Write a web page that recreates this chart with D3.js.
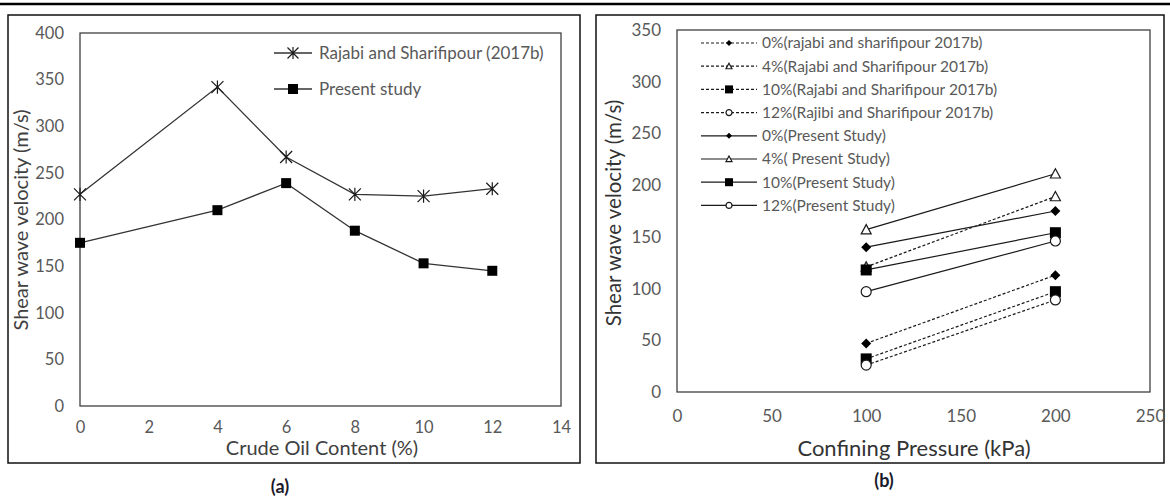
<!DOCTYPE html>
<html>
<head>
<meta charset="utf-8">
<script src="https://cdn.jsdelivr.net/npm/d3@7"></script>
<style>
  body { margin: 0; background: #fff; }
  svg { display: block; font-family: Lato, "Open Sans", sans-serif; }
</style>
</head>
<body>
<svg id="chart" width="1170" height="496"></svg>
<script>
// Panel (a) data
const oilContent = [0, 4, 6, 8, 10, 12];
const rajabiVs = [227, 342, 267, 227, 225, 233];
const presentVs = [175, 210, 239, 188, 153, 145];

// Panel (b) data
const pressures = [100, 200];
const seriesNames = [
  '0%(rajabi and sharifipour 2017b)',
  '4%(Rajabi and Sharifipour 2017b)',
  '10%(Rajabi and Sharifipour 2017b)',
  '12%(Rajibi and Sharifipour 2017b)',
  '0%(Present Study)',
  '4%( Present Study)',
  '10%(Present Study)',
  '12%(Present Study)'
];
const rajabi0 = [47, 113];
const rajabi4 = [121, 189];
const rajabi10 = [32, 97];
const rajabi12 = [26, 89];
const present0 = [140, 175];
const present4 = [157, 211];
const present10 = [118, 154];
const present12 = [97, 146];

const seriesB = [
  {name: seriesNames[0], values: rajabi0, marker: 'diamond', dashed: true},
  {name: seriesNames[1], values: rajabi4, marker: 'triangle', dashed: true},
  {name: seriesNames[2], values: rajabi10, marker: 'square', dashed: true},
  {name: seriesNames[3], values: rajabi12, marker: 'circle', dashed: true},
  {name: seriesNames[4], values: present0, marker: 'diamond', dashed: false},
  {name: seriesNames[5], values: present4, marker: 'triangle', dashed: false},
  {name: seriesNames[6], values: present10, marker: 'square', dashed: false},
  {name: seriesNames[7], values: present12, marker: 'circle', dashed: false}
];

const svg = d3.select('#chart');
const lineColor = '#1a1a1a';
const tickColor = '#595959';

// draw a marker centered at 0,0
function drawMarker(g, type, size) {
  if (type === 'square') {
    g.append('rect').attr('x', -size / 2).attr('y', -size / 2)
      .attr('width', size).attr('height', size).attr('fill', '#000');
  } else if (type === 'diamond') {
    const s = size / 2;
    g.append('path').attr('d', `M0,${-s}L${s},0L0,${s}L${-s},0Z`).attr('fill', '#000');
  } else if (type === 'triangle') {
    const s = size / 2;
    g.append('path').attr('d', `M0,${-s}L${s},${s * 0.85}L${-s},${s * 0.85}Z`)
      .attr('fill', '#fff').attr('stroke', lineColor).attr('stroke-width', 1.2);
  } else if (type === 'circle') {
    g.append('circle').attr('r', size / 2)
      .attr('fill', '#fff').attr('stroke', lineColor).attr('stroke-width', 1.2);
  } else if (type === 'star') {
    const s = size / 2;
    g.append('path')
      .attr('d', `M${-s},${-s}L${s},${s}M${-s},${s}L${s},${-s}M0,${-s * 1.1}L0,${s * 1.1}`)
      .attr('stroke', lineColor).attr('stroke-width', 1.2).attr('fill', 'none');
  }
}

// top rule
svg.append('line').attr('x1', 0).attr('x2', 1170).attr('y1', 4).attr('y2', 4)
  .attr('stroke', '#000').attr('stroke-width', 2.5);

// ---------- Panel (a) ----------
svg.append('rect').attr('x', 8).attr('y', 15).attr('width', 572).attr('height', 448)
  .attr('fill', 'none').attr('stroke', '#111').attr('stroke-width', 1.5);

const ax = d3.scaleLinear().domain([0, 14]).range([80, 561]);
const ay = d3.scaleLinear().domain([0, 400]).range([406, 33]);

const ga = svg.append('g');

ga.append('g').attr('transform', 'translate(0,406)')
  .call(d3.axisBottom(ax).tickValues(d3.range(0, 15, 2)).tickSize(0).tickPadding(15))
  .call(g => g.select('.domain').remove())
  .selectAll('text').attr('fill', tickColor).style('font-size', '16.5px').style('font-family', 'Lato');

ga.append('g').attr('transform', 'translate(80,0)')
  .call(d3.axisLeft(ay).tickValues(d3.range(0, 401, 50)).tickSize(0).tickPadding(16))
  .call(g => g.select('.domain').remove())
  .selectAll('text').attr('fill', tickColor).style('font-size', '16.5px').style('font-family', 'Lato');

ga.append('rect').attr('x', 80).attr('y', 33).attr('width', 481).attr('height', 373)
  .attr('fill', 'none').attr('stroke', '#404040').attr('stroke-width', 1.3);

const lineA = d3.line().x((d, i) => ax(oilContent[i])).y(d => ay(d));
ga.append('path').datum(rajabiVs).attr('d', lineA)
  .attr('fill', 'none').attr('stroke', '#333').attr('stroke-width', 1.3);
ga.append('path').datum(presentVs).attr('d', lineA)
  .attr('fill', 'none').attr('stroke', '#333').attr('stroke-width', 1.3);

rajabiVs.forEach((v, i) => {
  drawMarker(ga.append('g').attr('transform', `translate(${ax(oilContent[i])},${ay(v)})`), 'star', 12);
});
presentVs.forEach((v, i) => {
  drawMarker(ga.append('g').attr('transform', `translate(${ax(oilContent[i])},${ay(v)})`), 'square', 10);
});

// legend (a)
[['Rajabi and Sharifipour (2017b)', 'star', 11, 53], ['Present study', 'square', 10, 89]].forEach(([label, m, s, y]) => {
  ga.append('line').attr('x1', 274).attr('x2', 312).attr('y1', y).attr('y2', y)
    .attr('stroke', '#333').attr('stroke-width', 1.3);
  drawMarker(ga.append('g').attr('transform', `translate(293,${y})`), m, s);
  ga.append('text').attr('x', 319).attr('y', y).attr('dy', '0.35em')
    .attr('fill', tickColor).style('font-size', '17px').text(label);
});

ga.append('text').attr('x', 322).attr('y', 448).attr('dy', '0.35em').attr('text-anchor', 'middle')
  .attr('fill', '#404040').style('font-size', '20px').text('Crude Oil Content (%)');
ga.append('text').attr('transform', 'translate(21,220) rotate(-90)').attr('dy', '0.35em')
  .attr('text-anchor', 'middle').attr('fill', '#404040').style('font-size', '20px')
  .text('Shear wave velocity (m/s)');
ga.append('text').attr('x', 280).attr('y', 487).attr('dy', '0.35em').attr('text-anchor', 'middle')
  .attr('fill', '#1a1a2a').style('font-size', '18px').style('font-weight', 'bold').text('(a)');

// ---------- Panel (b) ----------
svg.append('rect').attr('x', 596).attr('y', 15).attr('width', 568).attr('height', 448)
  .attr('fill', 'none').attr('stroke', '#111').attr('stroke-width', 1.5);

const bx = d3.scaleLinear().domain([0, 250]).range([677, 1150]);
const by = d3.scaleLinear().domain([0, 350]).range([392, 30]);

const gb = svg.append('g');

gb.append('g').attr('transform', 'translate(0,392)')
  .call(d3.axisBottom(bx).tickValues(d3.range(0, 251, 50)).tickSize(0).tickPadding(18))
  .call(g => g.select('.domain').remove())
  .selectAll('text').attr('fill', tickColor).style('font-size', '17px').style('font-family', 'Lato');

gb.append('g').attr('transform', 'translate(677,0)')
  .call(d3.axisLeft(by).tickValues(d3.range(0, 351, 50)).tickSize(0).tickPadding(16))
  .call(g => g.select('.domain').remove())
  .selectAll('text').attr('fill', tickColor).style('font-size', '17px').style('font-family', 'Lato');

gb.append('rect').attr('x', 677).attr('y', 30).attr('width', 473).attr('height', 362)
  .attr('fill', 'none').attr('stroke', '#404040').attr('stroke-width', 1.3);

const markerSize = {diamond: 10, triangle: 10, square: 11, circle: 10};
const legendSize = {diamond: 6, triangle: 6, square: 8, circle: 6};

const lineB = d3.line().x((d, i) => bx(pressures[i])).y(d => by(d));
seriesB.forEach(s => {
  gb.append('path').datum(s.values).attr('d', lineB)
    .attr('fill', 'none').attr('stroke', lineColor).attr('stroke-width', 1.2)
    .attr('stroke-dasharray', s.dashed ? '3,2' : null);
});
seriesB.forEach(s => {
  s.values.forEach((v, i) => {
    drawMarker(gb.append('g').attr('transform', `translate(${bx(pressures[i])},${by(v)})`), s.marker, markerSize[s.marker]);
  });
});

// legend (b)
seriesB.forEach((s, i) => {
  const y = 43 + i * 23.2;
  gb.append('line').attr('x1', 701).attr('x2', 757).attr('y1', y).attr('y2', y)
    .attr('stroke', lineColor).attr('stroke-width', 1.2)
    .attr('stroke-dasharray', s.dashed ? '3,2' : null);
  drawMarker(gb.append('g').attr('transform', `translate(729,${y})`), s.marker, legendSize[s.marker]);
  gb.append('text').attr('x', 762).attr('y', y).attr('dy', '0.35em')
    .attr('fill', tickColor).style('font-size', '15.5px').text(s.name);
});

gb.append('text').attr('x', 914).attr('y', 448).attr('dy', '0.35em').attr('text-anchor', 'middle')
  .attr('fill', '#333').style('font-size', '22px').text('Confining Pressure (kPa)');
gb.append('text').attr('transform', 'translate(614,213) rotate(-90)').attr('dy', '0.35em')
  .attr('text-anchor', 'middle').attr('fill', '#333').style('font-size', '20.5px')
  .text('Shear wave velocity (m/s)');
gb.append('text').attr('x', 884).attr('y', 481).attr('dy', '0.35em').attr('text-anchor', 'middle')
  .attr('fill', '#1a1a2a').style('font-size', '18px').style('font-weight', 'bold').text('(b)');
</script>
</body>
</html>
